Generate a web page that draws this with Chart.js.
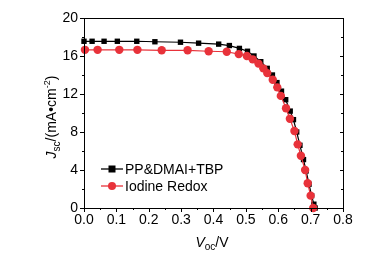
<!DOCTYPE html>
<html>
<head>
<meta charset="utf-8">
<script src="https://cdn.jsdelivr.net/npm/chart.js@4"></script>
<style>
  html, body { margin: 0; padding: 0; background: #fff; }
  #c { display: block; }
</style>
</head>
<body>
<canvas id="c" width="381" height="262"></canvas>
<script>
// J-V curves, voltage (V) and current density (mA/cm2)
const seriesNames = ['PP&DMAI+TBP', 'Iodine Redox'];

const tbpV = [0.000, 0.025, 0.062, 0.103, 0.163, 0.219, 0.298, 0.354, 0.416, 0.449, 0.480, 0.505, 0.525,
  0.546, 0.566, 0.582, 0.596, 0.610, 0.623, 0.637, 0.647, 0.657, 0.667, 0.678, 0.686, 0.695, 0.703, 0.710, 0.714];
const tbpJ = [17.55, 17.55, 17.55, 17.55, 17.55, 17.5, 17.45, 17.35, 17.25, 17.1, 16.8, 16.5, 16.0,
  15.4, 14.7, 14.0, 13.2, 12.3, 11.4, 10.2, 9.3, 8.0, 6.6, 5.1, 3.9, 2.5, 1.3, 0.4, 0.0];

const iodV = [0.003, 0.042, 0.109, 0.165, 0.240, 0.320, 0.385, 0.441, 0.478, 0.503, 0.521, 0.539, 0.554,
  0.566, 0.583, 0.597, 0.608, 0.624, 0.636, 0.650, 0.660, 0.670, 0.683, 0.691, 0.700, 0.708];
const iodJ = [16.65, 16.65, 16.65, 16.65, 16.6, 16.6, 16.5, 16.45, 16.2, 16.0, 15.65, 15.2, 14.7,
  14.2, 13.5, 12.7, 11.8, 10.5, 9.4, 8.1, 6.7, 5.5, 4.0, 2.6, 1.3, 0.0];

const xTicks = [0, 0.1, 0.2, 0.3, 0.4, 0.5, 0.6, 0.7, 0.8];
const yTicks = [0, 4, 8, 12, 16, 20];

const FONT = '"Liberation Sans", Arial, sans-serif';
const RED = '#e8323a';

function toPoints(xs, ys) {
  return xs.map((x, i) => ({ x: x, y: ys[i] }));
}

// draws a run of [text, font, dy] pieces from x, returns end x
function drawRun(ctx, parts, x, y) {
  parts.forEach(p => {
    ctx.font = p[1];
    ctx.fillText(p[0], x, y + p[2]);
    x += ctx.measureText(p[0]).width;
  });
  return x;
}
function runWidth(ctx, parts) {
  let w = 0;
  parts.forEach(p => { ctx.font = p[1]; w += ctx.measureText(p[0]).width; });
  return w;
}

// frame, minor ticks, axis titles and legend
const decor = {
  id: 'decor',
  afterDraw(chart) {
    const ctx = chart.ctx;
    const a = chart.chartArea;
    const xs = chart.scales.x, ys = chart.scales.y;
    ctx.save();
    ctx.strokeStyle = '#000';
    ctx.lineWidth = 1;
    ctx.strokeRect(a.left + 0.5, a.top + 0.5, a.right - a.left, a.bottom - a.top);

    ctx.beginPath();
    for (let v = 0; v <= 0.8001; v += 0.05) {
      const px = Math.round(xs.getPixelForValue(v)) + 0.5;
      const major = Math.abs(v * 10 - Math.round(v * 10)) < 1e-6;
      ctx.moveTo(px, a.bottom); ctx.lineTo(px, a.bottom + (major ? 4 : 2));
    }
    for (let v = 0; v <= 20.001; v += 2) {
      const py = Math.round(ys.getPixelForValue(v)) + 0.5;
      const major = v % 4 === 0;
      ctx.moveTo(a.left, py); ctx.lineTo(a.left - (major ? 4 : 2), py);
      ctx.moveTo(a.right, py); ctx.lineTo(a.right - (major ? 3 : 2), py);
    }
    ctx.stroke();

    ctx.fillStyle = '#000';
    ctx.textBaseline = 'alphabetic';

    // x title: V_oc/V
    const xt = [['V', 'italic 14px ' + FONT, 0], ['oc', '10px ' + FONT, 3], ['/V', '14px ' + FONT, 0]];
    drawRun(ctx, xt, 212 - runWidth(ctx, xt) / 2, 247);

    // y title: J_sc/(mA•cm^-2)
    const yt = [['J', 'italic 14px ' + FONT, 0], ['sc', '10px ' + FONT, 4], ['/(mA•cm', '14px ' + FONT, 0],
      ['-2', '9px ' + FONT, -6], [')', '14px ' + FONT, 0]];
    ctx.save();
    ctx.translate(56, 117);
    ctx.rotate(-Math.PI / 2);
    drawRun(ctx, yt, -runWidth(ctx, yt) / 2, 0);
    ctx.restore();

    // legend
    const items = [
      { name: seriesNames[0], color: '#000', shape: 'rect', y: 169 },
      { name: seriesNames[1], color: RED, shape: 'circle', y: 186 }
    ];
    items.forEach(it => {
      ctx.strokeStyle = it.color;
      ctx.fillStyle = it.color;
      ctx.lineWidth = 1.3;
      ctx.beginPath();
      ctx.moveTo(101, it.y); ctx.lineTo(123, it.y);
      ctx.stroke();
      if (it.shape === 'rect') {
        ctx.fillRect(108.5, it.y - 3.5, 7, 7);
      } else {
        ctx.beginPath();
        ctx.arc(112, it.y, 4, 0, Math.PI * 2);
        ctx.fill();
      }
      ctx.fillStyle = '#000';
      ctx.font = '14px ' + FONT;
      ctx.textBaseline = 'middle';
      ctx.fillText(it.name, 125, it.y + 1);
    });
    ctx.restore();
  }
};

new Chart(document.getElementById('c').getContext('2d'), {
  type: 'scatter',
  data: {
    datasets: [
      {
        label: seriesNames[1],
        data: toPoints(iodV, iodJ),
        showLine: true,
        borderColor: RED,
        backgroundColor: RED,
        borderWidth: 1.2,
        pointStyle: 'circle',
        pointRadius: 4.2,
        pointBorderWidth: 0,
        order: 1
      },
      {
        label: seriesNames[0],
        data: toPoints(tbpV, tbpJ),
        showLine: true,
        borderColor: '#000',
        backgroundColor: '#000',
        borderWidth: 1.2,
        pointStyle: 'rect',
        pointRadius: 3.8,
        pointBorderWidth: 0,
        order: 2
      }
    ]
  },
  options: {
    responsive: false,
    animation: false,
    clip: false,
    layout: { padding: { top: 18, right: 38, left: 0, bottom: 0 } },
    plugins: {
      legend: { display: false },
      tooltip: { enabled: false }
    },
    scales: {
      x: {
        type: 'linear',
        min: 0, max: 0.8,
        afterFit(s) { s.height = 54; },
        afterBuildTicks(s) { s.ticks = xTicks.map(v => ({ value: v })); },
        grid: { display: false, drawTicks: false },
        border: { display: false },
        ticks: {
          color: '#000',
          padding: 4,
          maxRotation: 0,
          font: { family: FONT, size: 14 },
          callback: v => v.toFixed(1)
        }
      },
      y: {
        type: 'linear',
        min: 0, max: 20,
        afterFit(s) { s.width = 84; },
        afterBuildTicks(s) { s.ticks = yTicks.map(v => ({ value: v })); },
        grid: { display: false, drawTicks: false },
        border: { display: false },
        ticks: {
          color: '#000',
          padding: 6,
          font: { family: FONT, size: 14 }
        }
      }
    }
  },
  plugins: [decor]
});
</script>
</body>
</html>
